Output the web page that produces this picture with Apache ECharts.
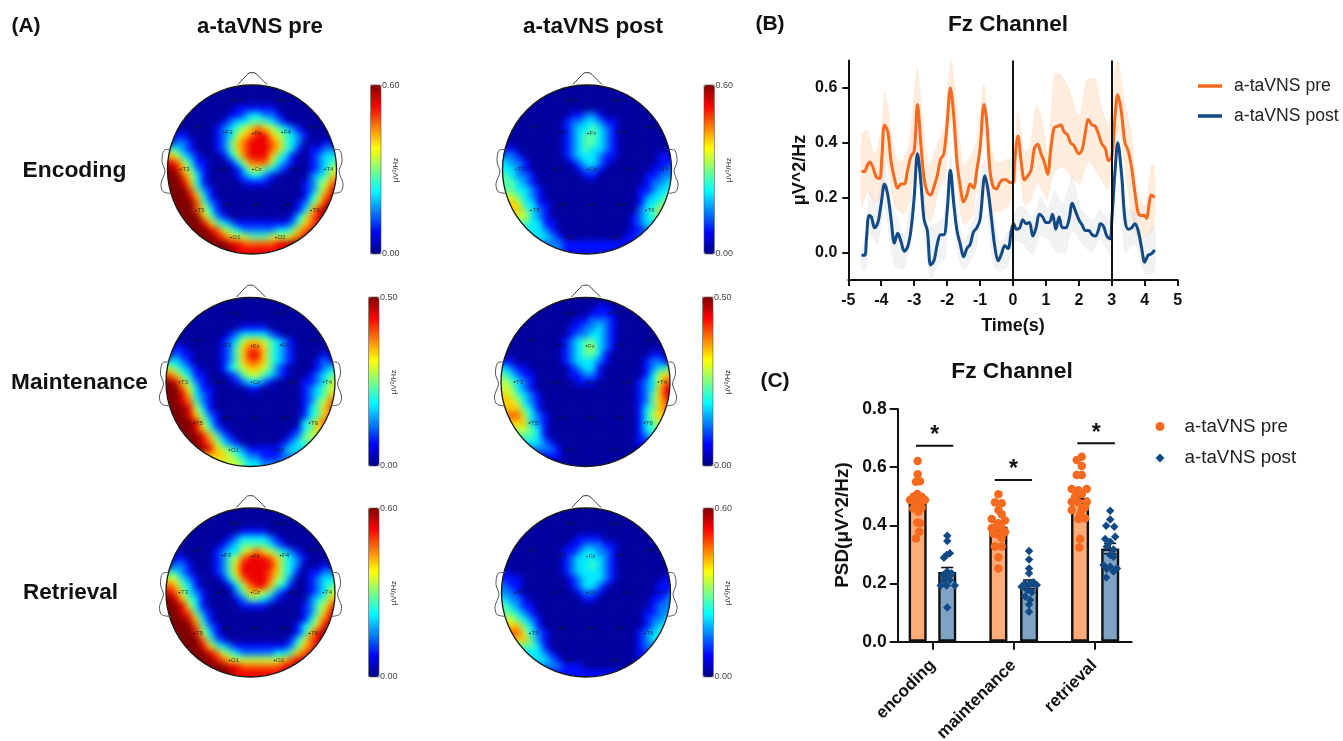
<!DOCTYPE html>
<html><head><meta charset="utf-8">
<style>html,body{margin:0;padding:0;background:#fff;overflow:hidden}#c{width:1343px;height:741px}
canvas[data-zr-dom-id="zr_-1"]{filter:blur(3px)}</style>
<script src="https://cdn.jsdelivr.net/npm/echarts@6/dist/echarts.min.js"></script></head>
<body><div id="c"></div>
<script>
// ---------- Panel A: topographic maps, digit 0-9 = tenths of the colour scale, read by eye ----------
const encodingPre=["000000000000000000000000000","000000000000000000000000000","000000000000000000000000000","000000000000000000000000000","000000000001111110000000000","000000000011233221000000000","000000000123344432100000000","000000001234567654321000000","001100001235678865432100000","002210001246788876432000100","043210001246788876431011220","665321000135788864310012333","887531100013577753210012344","998642100001355432100012355","999753100001233210000023466","999863100000111100000124577","999974210000000000000124688","999986310000000000000135788","999997421000000000001246899","999997531000000000001368999","999999642100000000013578999","999999864321111111124678999","999999987543222223346789999","999999998765544455567899999","999999999988777778899999999","999999999998888888899999999","999999999998888888899999999"];
const encodingPost=["000000000000000000000000000","000000000000000000000000000","000000000000000000000000000","000000000000000000000000000","000000000000000000000000000","000000000001122100000000000","000000000012233211000000000","000000000012334321000000000","000000000012344321000000000","000000000012344321000000000","011000000012343321000000000","022100000012333211000000110","332210000001233210000000111","333210000000122100000001122","443221000000011000000011222","444321000000000000000012233","444332100000000000000112333","555432100000000000000123344","666533110000000000000133455","666643210000000000000234555","555553210000000000001234444","444443311000000000001233333","333333321000000000001122222","333333332100000000011222222","222222222211111111111111111","222222222211111111111111111","222222222211111111111111111"];
const maintenancePre=["000000000000000000000000000","000000000000000000000000000","000000000000000000000000000","000000000000000000000000000","000000000000000000000000000","000000000000111100000000000","000000000012333321000000000","000000000123566543210000000","001100000124677643210000000","002110000124688643210000100","033210000124677643210001210","554321000134566542100001233","776431100012455432100012344","998642100001233210000112355","999753110000011000000123456","999863210000000000000123466","999874210000000000000124577","999985310000000000000134677","999986421000000000000134677","999998531000000000000346777","999998642100000000001346666","999999864210000000012455555","999999875321000000123444444","999999986543211111233333333","666666666654322111222222222","555555555555433222222222222","555555555555433222222222222"];
const maintenancePost=["000000000000000000000000000","000000000000000000000000000","000000000000000110000000000","000000000000001111000000000","000000000000112221000000000","000000000001122321000000000","000000000001223321000000000","000000000012344321000000000","000000000012345321000000000","000000000012344310000001100","011000000012333210000012210","332110000001233100000012344","443211000001122100000013566","554321000000111000000123577","555321000000000000000123688","665432100000000000000124688","666532100000000000000124677","666643100000000000000134677","777753210000000000000135666","666663210000000000000134566","555554310000000000000134444","444444310000000000000123333","333333321000000000000112222","222222222100000000000011111","111111111100000000000001111","000000000000000000000000000","000000000000000000000000000"];
const retrievalPre=["000000000000000000000000000","000000000000000000000000000","000000000000000000000000000","000000000000000000000000000","000000000000111100000000000","000000000012333321000000000","000000000123444432100000000","000000001233567654321000000","001100001245788876432100000","002210001246888886432000100","043210001246888876431011220","555321000135788875420012333","776431000013578864310012344","887532100002466542100012355","998643100001244321000023466","999853100000111100000124578","999874210000000000000124689","999986310000000000000135789","999997421000000000001346899","999998531000000000001368999","999999742100000000013578999","999999864321111111124678999","999999987543222223346789999","999999998765555555678899999","999999999988777777889999999","999999999998888888899999999","999999999998888888899999999"];
const retrievalPost=["000000000000000000000000000","000000000000000000000000000","000000000000000000000000000","000000000000000000000000000","000000000000000000000000000","000000000000111100000000000","000000000001122211000000000","000000000011233221000000000","000000000012333321000000000","000000000012334321000000000","010000000012333321000000000","111100000001233321000000011","221100000001233210000000111","222100000000122100000000112","332210000000011000000001122","443211000000000000000001222","444321000000000000000011223","555432100000000000000012233","666643100000000000000012334","777753210000000000000123344","666664210000000000000123333","444444310000000000000122222","333333321000000000000112222","333333332100000000000111111","222222222211100000000111111","111111111111111111111111111","111111111111111111111111111"];
const mapMaxima=[0.60,0.60,0.50,0.50,0.60,0.60];
const mapRows=[encodingPre,encodingPost,maintenancePre,maintenancePost,retrievalPre,retrievalPost];
const electrodeNames=["Fp1","Fp2","F7","F3","Fz","F4","F8","T3","C3","Cz","C4","T4","T5","P3","Pz","P4","T6","O1","O2"];
// ---------- Panel B: Fz channel time course ----------
const preCurve=[[-4.6,.295],[-4.5,.295],[-4.45,.31],[-4.35,.33],[-4.25,.31],[-4.15,.275],[-4.05,.27],[-3.98,.35],[-3.9,.465],[-3.8,.44],[-3.7,.33],[-3.6,.27],[-3.5,.235],[-3.4,.25],[-3.3,.25],[-3.2,.30],[-3.1,.35],[-3,.37],[-2.9,.54],[-2.8,.40],[-2.7,.27],[-2.6,.22],[-2.5,.21],[-2.4,.24],[-2.3,.28],[-2.2,.34],[-2.1,.36],[-2,.47],[-1.9,.60],[-1.8,.50],[-1.7,.33],[-1.6,.24],[-1.5,.185],[-1.4,.21],[-1.3,.25],[-1.2,.235],[-1.1,.30],[-1,.38],[-.88,.54],[-.8,.48],[-.7,.30],[-.6,.24],[-.5,.232],[-.4,.255],[-.3,.265],[-.2,.265],[-.1,.255],[0,.255],[.05,.33],[.15,.425],[.25,.33],[.35,.265],[.45,.28],[.55,.30],[.65,.38],[.75,.395],[.85,.36],[.95,.33],[1.05,.285],[1.15,.38],[1.25,.455],[1.35,.46],[1.45,.465],[1.55,.44],[1.65,.43],[1.75,.40],[1.85,.39],[2,.36],[2.1,.375],[2.2,.44],[2.28,.485],[2.4,.465],[2.5,.46],[2.6,.43],[2.7,.395],[2.8,.38],[2.9,.335],[3,.35],[3.1,.50],[3.18,.575],[3.28,.52],[3.4,.40],[3.5,.37],[3.6,.31],[3.7,.22],[3.8,.145],[3.9,.135],[4,.135],[4.05,.125],[4.15,.19],[4.2,.21],[4.3,.20]];
const postCurve=[[-4.6,-.01],[-4.5,-.01],[-4.45,.05],[-4.37,.135],[-4.3,.13],[-4.2,.09],[-4.1,.11],[-4,.18],[-3.9,.25],[-3.8,.21],[-3.7,.12],[-3.6,.035],[-3.5,.07],[-3.4,.04],[-3.3,.005],[-3.2,.02],[-3.1,.08],[-3,.20],[-2.9,.36],[-2.8,.26],[-2.7,.12],[-2.6,.08],[-2.5,-.045],[-2.4,-.03],[-2.3,.03],[-2.2,.065],[-2.1,.065],[-2,.15],[-1.9,.30],[-1.8,.18],[-1.7,.08],[-1.6,.03],[-1.5,-.015],[-1.4,.015],[-1.3,.03],[-1.2,.075],[-1.1,.09],[-1,.12],[-.85,.28],[-.75,.22],[-.65,.12],[-.55,.02],[-.45,-.03],[-.35,-.005],[-.25,.025],[-.15,.015],[-.05,.08],[.02,.105],[.1,.085],[.2,.09],[.3,.12],[.4,.105],[.5,.11],[.6,.06],[.7,.09],[.8,.14],[.9,.13],[1,.11],[1.1,.11],[1.2,.14],[1.3,.085],[1.4,.13],[1.5,.09],[1.6,.09],[1.7,.12],[1.8,.18],[1.9,.15],[2,.12],[2.1,.10],[2.2,.08],[2.3,.08],[2.4,.065],[2.5,.06],[2.6,.085],[2.65,.105],[2.75,.095],[2.85,.06],[2.95,.05],[3,.12],[3.1,.30],[3.18,.40],[3.3,.28],[3.4,.12],[3.5,.085],[3.6,.09],[3.7,.105],[3.8,.08],[3.9,.02],[4,-.035],[4.1,-.01],[4.2,-.005],[4.3,.01]];
const preUpper=[[-4.6,.43],[-4.4,.445],[-4.2,.36],[-4,.46],[-3.9,.59],[-3.8,.54],[-3.6,.37],[-3.4,.33],[-3.2,.38],[-3.05,.53],[-2.9,.68],[-2.75,.52],[-2.55,.32],[-2.3,.40],[-2.1,.46],[-1.95,.66],[-1.88,.72],[-1.75,.60],[-1.5,.32],[-1.3,.35],[-1.1,.42],[-.88,.62],[-.7,.42],[-.5,.33],[-.2,.34],[0,.35],[.15,.52],[.35,.37],[.5,.38],[.7,.54],[.9,.48],[1.05,.37],[1.25,.65],[1.45,.65],[1.7,.60],[2,.50],[2.2,.62],[2.3,.635],[2.5,.635],[2.7,.53],[2.9,.47],[3.1,.68],[3.2,.70],[3.4,.55],[3.6,.44],[3.8,.22],[4,.17],[4.2,.32],[4.3,.32]];
const preLower=[[-4.6,.16],[-4.4,.22],[-4.2,.18],[-4,.20],[-3.85,.33],[-3.6,.17],[-3.3,.14],[-3.1,.20],[-2.9,.40],[-2.7,.16],[-2.5,.11],[-2.2,.24],[-2.05,.26],[-1.9,.48],[-1.7,.24],[-1.5,.10],[-1.2,.14],[-.88,.44],[-.65,.15],[-.4,.15],[-.1,.17],[.15,.30],[.35,.17],[.55,.19],[.75,.25],[1.05,.19],[1.25,.29],[1.5,.31],[1.8,.27],[2.05,.25],[2.3,.33],[2.6,.28],[2.9,.23],[3.2,.45],[3.45,.25],[3.7,.07],[3.9,.05],[4.1,.06],[4.3,.10]];
const postUpper=[[-4.6,.03],[-4.5,.03],[-4.35,.23],[-4.15,.17],[-3.9,.34],[-3.7,.18],[-3.5,.13],[-3.3,.07],[-3.05,.24],[-2.9,.42],[-2.7,.21],[-2.55,.10],[-2.3,.11],[-2.1,.14],[-1.9,.36],[-1.7,.18],[-1.5,.05],[-1.2,.13],[-.85,.34],[-.65,.19],[-.4,.04],[-.1,.09],[.1,.16],[.3,.17],[.6,.13],[.85,.21],[1.05,.16],[1.25,.23],[1.5,.18],[1.8,.28],[2.05,.17],[2.4,.12],[2.65,.16],[2.9,.12],[3.18,.47],[3.4,.17],[3.7,.15],[3.95,.05],[4.3,.10]];
const postLower=[[-4.6,-.06],[-4.45,-.06],[-4.35,.06],[-4.1,.03],[-3.9,.16],[-3.6,-.05],[-3.3,-.06],[-3.05,.10],[-2.9,.29],[-2.65,.01],[-2.5,-.11],[-2.3,-.05],[-2.05,-.02],[-1.9,.22],[-1.65,-.03],[-1.45,-.06],[-1.1,.02],[-.85,.21],[-.6,-.05],[-.4,-.07],[-.15,-.05],[.05,.04],[.3,.03],[.6,-.01],[.85,.06],[1.1,.04],[1.3,0],[1.6,0],[1.8,.08],[2.1,.03],[2.4,0],[2.65,.05],[2.95,-.01],[3.18,.32],[3.4,0],[3.7,.03],[4,-.08],[4.3,-.07]];
const eventTimes=[0,3];
const timeTicks=[-5,-4,-3,-2,-1,0,1,2,3,4,5];
const fzTicks=[0,.2,.4,.6];
// ---------- Panel C: PSD by phase ----------
const phases=["encoding","maintenance","retrieval"];
const psdTicks=[0,.2,.4,.6,.8];
const barPre=[[.814,.485],[1.813,.395],[2.824,.495]];
const barPost=[[1.18,.24],[2.193,.197],[3.197,.32]];
const errPre=[.015,.017,.02];
const errPost=[.015,.015,.018];
const dotsPre=[[.814,.621],[.814,.576],[.793,.55],[.843,.552],[.81,.508],[.76,.498],[.864,.498],[.719,.487],[.905,.487],[.781,.481],[.843,.479],[.81,.464],[.76,.458],[.864,.461],[.822,.447],[.81,.41],[.843,.407],[.835,.378],[.793,.355],
[1.813,.507],[1.772,.479],[1.854,.476],[1.813,.453],[1.854,.438],[1.73,.422],[1.895,.417],[1.813,.407],[1.73,.39],[1.78,.395],[1.854,.392],[1.895,.378],[1.75,.372],[1.813,.367],[1.854,.357],[1.77,.327],[1.854,.327],[1.813,.29],[1.813,.252],
[2.845,.636],[2.783,.625],[2.845,.604],[2.783,.573],[2.845,.573],[2.72,.525],[2.804,.521],[2.907,.525],[2.845,.508],[2.762,.498],[2.72,.481],[2.804,.479],[2.907,.481],[2.72,.453],[2.845,.453],[2.886,.461],[2.824,.435],[2.804,.422],[2.886,.424],[2.824,.353],[2.816,.324]];
const dotsPost=[[1.18,.364],[1.18,.346],[1.213,.304],[1.172,.298],[1.139,.289],[1.18,.241],[1.13,.229],[1.234,.235],[1.18,.22],[1.14,.212],[1.213,.212],[1.1,.193],[1.274,.193],[1.172,.193],[1.18,.118],
[2.193,.312],[2.193,.283],[2.193,.252],[2.193,.235],[2.14,.2],[2.247,.204],[2.193,.197],[2.1,.189],[2.288,.195],[2.17,.178],[2.226,.17],[2.143,.155],[2.205,.143],[2.193,.128],[2.193,.103],
[3.197,.45],[3.197,.42],[3.147,.399],[3.247,.395],[3.135,.353],[3.259,.361],[3.197,.344],[3.155,.327],[3.238,.317],[3.197,.298],[3.238,.292],[3.114,.264],[3.197,.258],[3.28,.252],[3.155,.25],[3.238,.241],[3.147,.221]];
const sigBars=[[[.793,.674],[1.255,.674]],[[1.767,.556],[2.23,.556]],[[2.79,.682],[3.255,.682]]];
// ---------- Appearance ----------
const orange='#F56A1E',navy='#124A85';
const FONT='"Liberation Sans",Arial,sans-serif';
const jet=['#00007F','#0000FF','#007FFF','#00FFFF','#7FFF7F','#FFFF00','#FF7F00','#FF0000','#7F0000'];
const mapCenters=[[252,169.5],[587,169.5],[250.5,382],[585.5,382],[250.5,592.5],[586,592.5]];
const barBoxes=[[370.5,85],[704,85],[368.5,297],[702.5,297],[368.5,508],[703,508]];
const R=84.5,cell=2*R/25,N=27;
const electrodeOffsets=[[-21,-69],[24,-69],[-57,-42],[-28,-37],[1,-36],[30,-37],[59,-42],[-71,0],[-34,0],[1,0],[38,0],[73,0],[-56,41],[-28,36],[1,36],[30,36],[59,41],[-21,68],[24,68]];

const grids=[],xAxes=[],yAxes=[],series=[],visualMaps=[],graphics=[];
const idx=[...Array(N).keys()].map(String);
mapRows.forEach((rows,m)=>{
  const [cx,cy]=mapCenters[m];
  grids.push({left:cx-N*cell/2,top:cy-N*cell/2,width:N*cell,height:N*cell,outerBoundsMode:'none'});
  xAxes.push({type:'category',gridIndex:m,data:idx,show:false});
  yAxes.push({type:'category',gridIndex:m,data:idx,show:false,inverse:true});
  const data=[];
  rows.forEach((row,r)=>{[...row].forEach((d,c)=>{
    if(Math.hypot(c-13,r-13)<=14.5) data.push([c,r,(.03+.97*(+d)/9)*mapMaxima[m]]);
  });});
  series.push({type:'heatmap',name:'map'+m,xAxisIndex:m,yAxisIndex:m,data,zlevel:-1,silent:true,itemStyle:{borderWidth:0},progressive:0,animation:false});
  const [bx,by]=barBoxes[m];
  visualMaps.push({type:'continuous',seriesIndex:m,min:0,max:mapMaxima[m],left:bx,top:by,itemWidth:10.5,itemHeight:169,padding:0,calculable:false,text:null,show:true,inRange:{color:jet},hoverLink:false});
  // head outline, mask and annotations
  graphics.push({type:'circle',z:10,silent:true,shape:{cx,cy,r:R+14},style:{fill:'transparent',stroke:'#fff',lineWidth:28}});
  graphics.push({type:'circle',z:11,silent:true,shape:{cx,cy,r:R},style:{fill:'transparent',stroke:'#1a1a1a',lineWidth:1.3}});
  graphics.push({type:'polyline',z:11,silent:true,shape:{points:[[cx-14,cy-R-0.5],[cx-3,cy-R-12],[cx+3,cy-R-12],[cx+15,cy-R-0.5]],smooth:.15},style:{stroke:'#333',lineWidth:1,fill:'none'}});
  [-1,1].forEach(s=>{
    graphics.push({type:'polyline',z:11,silent:true,shape:{points:[[cx+s*81,cy-20],[cx+s*88,cy-19],[cx+s*90,cy-8],[cx+s*87,cy+2],[cx+s*91,cy+14],[cx+s*89,cy+22],[cx+s*80,cy+24]],smooth:.3},style:{stroke:'#555',lineWidth:1,fill:'none'}});
  });
  electrodeNames.forEach((n,i)=>{
    const [dx,dy]=electrodeOffsets[i];
    graphics.push({type:'circle',z:12,silent:true,shape:{cx:cx+dx,cy:cy+dy,r:.8},style:{fill:'#111'}});
    graphics.push({type:'text',z:12,silent:true,x:cx+dx+1.5,y:cy+dy,style:{text:n,fill:'rgba(20,20,40,.8)',font:'6px '+FONT,textVerticalAlign:'middle'}});
  });
  graphics.push({type:'rect',z:12,silent:true,shape:{x:bx,y:by,width:10.5,height:169},style:{fill:'transparent',stroke:'#555',lineWidth:.6}});
  const lab=mapMaxima[m].toFixed(2);
  graphics.push({type:'text',z:12,silent:true,x:bx+11.5,y:by+1,style:{text:lab,fill:'#444',font:'9px '+FONT,textVerticalAlign:'middle'}});
  graphics.push({type:'text',z:12,silent:true,x:bx+11.5,y:by+169,style:{text:'0.00',fill:'#444',font:'9px '+FONT,textVerticalAlign:'middle'}});
  graphics.push({type:'text',z:12,silent:true,x:bx+25,y:by+85,rotation:Math.PI/2,style:{text:'µV²/Hz',fill:'#333',font:'8px '+FONT,textAlign:'center',textVerticalAlign:'middle'}});
});
const bold=(t,x,y,size,extra)=>Object.assign({type:'text',z:13,silent:true,x,y,style:{text:t,fill:'#111',font:'bold '+size+'px '+FONT,textAlign:'center',textVerticalAlign:'middle'}},extra||{});
graphics.push(bold('(A)',26,26,21),bold('(B)',770,24,21),bold('(C)',775,381,21),
  bold('a-taVNS pre',260,27,22.2),bold('a-taVNS post',593,27,22.5),
  bold('Encoding',74.5,170.5,22.8),bold('Maintenance',79.5,382.5,22.6),bold('Retrieval',70.5,592.5,22.5),
  bold('Fz Channel',1008,24.5,22.5),bold('Fz Channel',1012,371.5,22.8),
  bold('Time(s)',1013,326,18),
  bold('μV^2/Hz',800,170,18,{rotation:Math.PI/2}),
  bold('PSD(μV^2/Hz)',843,525,18.9,{rotation:Math.PI/2}));

// Panel B
grids.push({left:848.3,top:60.5,width:329.4,height:219.5,outerBoundsMode:'none'});
xAxes.push({type:'value',gridIndex:6,min:-5,max:5,interval:1,axisLine:{onZero:false,lineStyle:{color:'#111',width:2}},axisTick:{length:6,lineStyle:{color:'#111',width:2}},splitLine:{show:false},axisLabel:{color:'#111',fontWeight:'bold',fontSize:16,fontFamily:FONT,margin:13,customValues:timeTicks,formatter:v=>String(v)}});
yAxes.push({type:'value',gridIndex:6,min:-.1,max:.7,axisLine:{show:true,onZero:false,lineStyle:{color:'#111',width:2}},axisTick:{show:true,length:6,customValues:fzTicks,lineStyle:{color:'#111',width:2}},splitLine:{show:false},axisLabel:{color:'#111',fontWeight:'bold',fontSize:16,fontFamily:FONT,margin:11,customValues:fzTicks,formatter:v=>v.toFixed(1)}});
const band=(up,lo,fill)=>({type:'custom',xAxisIndex:6,yAxisIndex:6,silent:true,clip:true,z:1,data:[[0,0]],encode:{x:0,y:1},animation:false,
  renderItem:(p,api)=>({type:'polygon',shape:{points:up.map(d=>api.coord(d)).concat(lo.slice().reverse().map(d=>api.coord(d))),smooth:.25},style:{fill}})});
series.push(band(preUpper,preLower,'rgba(253,205,165,.38)'));
series.push(band(postUpper,postLower,'rgba(170,180,190,.17)'));
series.push({type:'line',name:'a-taVNS pre',xAxisIndex:6,yAxisIndex:6,data:preCurve,smooth:.35,showSymbol:false,z:3,lineStyle:{color:orange,width:3},itemStyle:{color:orange},
  markLine:{silent:true,symbol:'none',label:{show:false},animation:false,lineStyle:{color:'#111',width:2,type:'solid'},data:eventTimes.map(t=>({xAxis:t}))}});
series.push({type:'line',name:'a-taVNS post',xAxisIndex:6,yAxisIndex:6,data:postCurve,smooth:.35,showSymbol:false,z:4,lineStyle:{color:navy,width:3},itemStyle:{color:navy}});

// Panel C
grids.push({left:897.7,top:409,width:234,height:232.7,outerBoundsMode:'none'});
xAxes.push({type:'value',gridIndex:7,min:.567,max:3.463,axisLine:{onZero:false,lineStyle:{color:'#111',width:2}},axisTick:{length:8,customValues:[1,2,3],lineStyle:{color:'#111',width:2}},splitLine:{show:false},axisLabel:{customValues:[1,2,3],rotate:45,margin:21,color:'#111',fontWeight:'bold',fontSize:17,fontFamily:FONT,formatter:v=>phases[Math.round(v)-1]}});
yAxes.push({type:'value',gridIndex:7,min:0,max:.8,interval:.2,axisLine:{show:true,onZero:false,lineStyle:{color:'#111',width:2}},axisTick:{show:true,length:8,lineStyle:{color:'#111',width:2}},splitLine:{show:false},axisLabel:{color:'#111',fontWeight:'bold',fontSize:17.5,fontFamily:FONT,margin:11,formatter:v=>psdTicks.includes(+v.toFixed(1))?v.toFixed(1):''}});
const barS=(name,data,fill)=>({type:'bar',name,xAxisIndex:7,yAxisIndex:7,data,barWidth:18,barGap:'-100%',z:2,itemStyle:{color:fill,borderColor:'#111',borderWidth:2.4},silent:true});
series.push(barS('pre mean',barPre,'#FFAC78'),barS('post mean',barPost,'#7FA3C4'));
const errS=(bars,errs)=>({type:'custom',xAxisIndex:7,yAxisIndex:7,z:3,silent:true,data:bars.map((b,i)=>[b[0],b[1]-errs[i],b[1]+errs[i]]),encode:{x:0,y:[1,2]},
  renderItem:(p,api)=>{const a=api.coord([api.value(0),api.value(1)]),b=api.coord([api.value(0),api.value(2)]);const st={stroke:'#111',lineWidth:1.6};
    return {type:'group',children:[{type:'line',shape:{x1:a[0],y1:a[1],x2:b[0],y2:b[1]},style:st},{type:'line',shape:{x1:a[0]-6,y1:a[1],x2:a[0]+6,y2:a[1]},style:st},{type:'line',shape:{x1:b[0]-6,y1:b[1],x2:b[0]+6,y2:b[1]},style:st}]};}});
series.push(errS(barPre,errPre),errS(barPost,errPost));
series.push({type:'scatter',name:'a-taVNS pre',xAxisIndex:7,yAxisIndex:7,data:dotsPre,symbol:'circle',symbolSize:8.5,z:5,itemStyle:{color:orange,opacity:1}});
series.push({type:'scatter',name:'a-taVNS post',xAxisIndex:7,yAxisIndex:7,data:dotsPost,symbol:'diamond',symbolSize:8.5,z:5,itemStyle:{color:navy,opacity:1}});
sigBars.forEach(b=>{
  series.push({type:'line',name:'sig',xAxisIndex:7,yAxisIndex:7,data:b,showSymbol:false,silent:true,z:5,lineStyle:{color:'#111',width:2},
    markPoint:{silent:true,symbol:'circle',symbolSize:1,itemStyle:{color:'transparent'},animation:false,label:{show:true,formatter:'*',color:'#111',fontWeight:'bold',fontSize:23,fontFamily:FONT,offset:[0,-2]},data:[{coord:[(b[0][0]+b[1][0])/2,b[0][1]+.027]}]}});
});

const option={animation:false,backgroundColor:'transparent',grid:grids,xAxis:xAxes,yAxis:yAxes,series,visualMap:visualMaps,graphic:{elements:graphics},tooltip:{show:false},
 legend:[
  {left:1198,top:77,padding:0,orient:'vertical',itemGap:12,itemWidth:24,itemHeight:3.5,selectedMode:false,icon:'rect',textStyle:{fontSize:17.6,color:'#222',fontFamily:FONT,padding:[0,0,0,7]},data:[{name:'a-taVNS pre'},{name:'a-taVNS post'}]},
  {left:1155.5,top:417,padding:0,orient:'vertical',itemGap:12.5,itemWidth:9,itemHeight:9,selectedMode:false,textStyle:{fontSize:18.8,color:'#222',fontFamily:FONT,padding:[0,0,0,15]},data:[{name:'a-taVNS pre',icon:'circle'},{name:'a-taVNS post',icon:'diamond'}]}
 ]};
const chart=echarts.init(document.getElementById('c'),null,{renderer:'canvas',width:1343,height:741});
chart.setOption(option);
</script></body></html>
